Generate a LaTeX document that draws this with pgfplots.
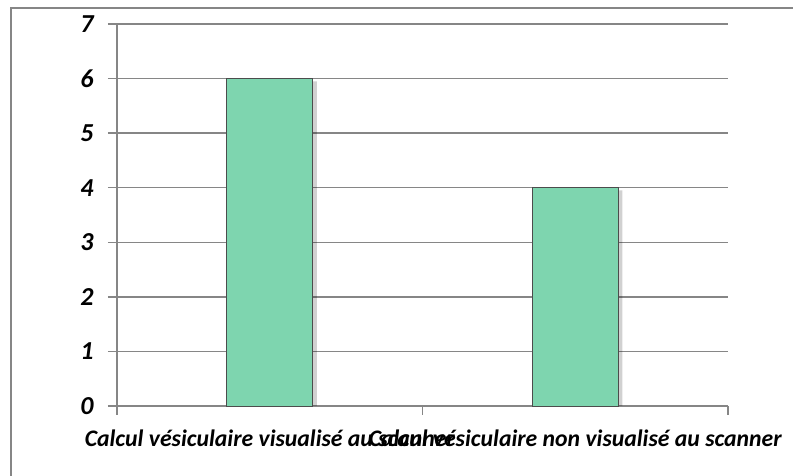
\documentclass[border=0pt]{standalone}
\usepackage{fontspec}
\setmainfont{Carlito}
\usepackage{pgfplots}
\pgfplotsset{compat=1.18}
\definecolor{barg}{RGB}{126,213,175}
\definecolor{gridg}{RGB}{134,134,134}
\begin{document}
\begin{tikzpicture}[x=1bp,y=1bp]
\useasboundingbox (0,0) rectangle (793,476);
\clip (0,0) rectangle (793,476);
\draw[gridg, line width=2.5bp] (11,-20) -- (11,468) -- (820,468);
\begin{axis}[
  at={(117bp,70bp)}, anchor=south west,
  scale only axis, width=611bp, height=382bp,
  xmin=-0.5, xmax=1.5, ymin=0, ymax=7,
  ytick={0,1,...,7},
  xtick={-0.5,0.5,1.5}, xticklabels={},
  extra x ticks={0,1},
  extra x tick labels={Calcul vésiculaire visualisé au scanner, Calcul vésiculaire non visualisé au scanner},
  extra x tick style={major tick length=0pt, grid=none, xticklabel style={yshift=-20bp}},
  axis lines=left, axis line style={-, gridg, line width=1.5bp},
  tick align=outside, major tick length=9bp,
  tick style={gridg, line width=1.5bp},
  ymajorgrids, grid style={gridg, line width=1.5bp},
  /pgf/number format/assume math mode=true,
  yticklabel style={font=\fontsize{26}{26}\selectfont\bfseries\itshape, xshift=-11bp},
  xticklabel style={font=\fontsize{23.8}{24}\selectfont\bfseries\itshape},
  clip=false,
]
\addplot[ybar, bar width=86bp, bar shift=4bp, fill=black, fill opacity=0.18, draw=none] coordinates {(0,5.95) (1,3.95)};
\addplot[ybar, bar width=86bp, fill=barg, draw=gray!60!black, line width=0.8bp] coordinates {(0,6) (1,4)};
\end{axis}
\end{tikzpicture}
\end{document}
